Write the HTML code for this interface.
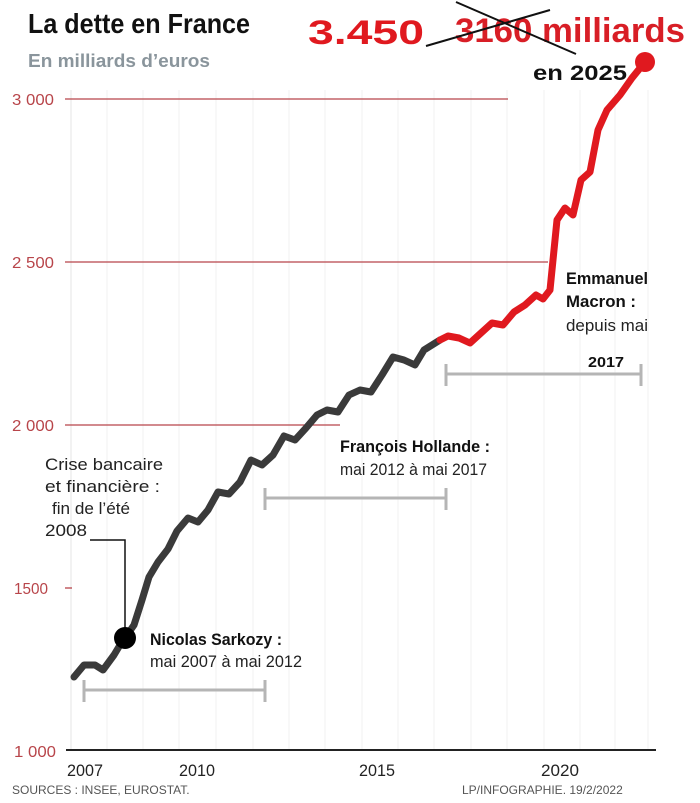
<!DOCTYPE html>
<html><head><meta charset="utf-8"><style>
html,body{margin:0;padding:0;background:#fff;}
svg{display:block;}
text{font-family:"Liberation Sans Narrow","Liberation Sans",sans-serif;}
</style></head><body>
<svg width="700" height="803" viewBox="0 0 700 803" xmlns="http://www.w3.org/2000/svg">
<g stroke="#f2f2f2" stroke-width="1">
<line x1="107" y1="90" x2="107" y2="750"/><line x1="143" y1="90" x2="143" y2="750"/><line x1="179" y1="90" x2="179" y2="750"/><line x1="216" y1="90" x2="216" y2="750"/><line x1="253" y1="90" x2="253" y2="750"/><line x1="289" y1="90" x2="289" y2="750"/><line x1="325" y1="90" x2="325" y2="750"/><line x1="362" y1="90" x2="362" y2="750"/><line x1="398" y1="90" x2="398" y2="750"/><line x1="434" y1="90" x2="434" y2="750"/><line x1="471" y1="90" x2="471" y2="750"/><line x1="507" y1="90" x2="507" y2="750"/><line x1="544" y1="90" x2="544" y2="750"/><line x1="580" y1="90" x2="580" y2="750"/><line x1="615" y1="90" x2="615" y2="750"/><line x1="648" y1="90" x2="648" y2="750"/>
</g>
<line x1="71" y1="90" x2="71" y2="750" stroke="#e4e4e4"/>
<g stroke="#b8454a" stroke-width="1.3">
<line x1="65" y1="99" x2="508" y2="99"/>
<line x1="65" y1="262" x2="548" y2="262"/>
<line x1="65" y1="425" x2="340" y2="425"/>
<line x1="65" y1="588" x2="72" y2="588"/>
</g>
<line x1="66" y1="750" x2="656" y2="750" stroke="#222" stroke-width="2"/>
<g font-size="16" fill="#b8454a">
<text x="12" y="105" textLength="42" lengthAdjust="spacingAndGlyphs">3 000</text><text x="12" y="268" textLength="42" lengthAdjust="spacingAndGlyphs">2 500</text><text x="12" y="431" textLength="42" lengthAdjust="spacingAndGlyphs">2 000</text><text x="14" y="594" textLength="34" lengthAdjust="spacingAndGlyphs">1500</text><text x="14" y="757" textLength="42" lengthAdjust="spacingAndGlyphs">1 000</text>
</g>
<g font-size="17" fill="#222" text-anchor="middle">
<text x="85" y="776" textLength="36" lengthAdjust="spacingAndGlyphs">2007</text><text x="197" y="776" textLength="36" lengthAdjust="spacingAndGlyphs">2010</text><text x="377" y="776" textLength="36" lengthAdjust="spacingAndGlyphs">2015</text><text x="560" y="776" textLength="38" lengthAdjust="spacingAndGlyphs">2020</text>
</g>
<text x="12" y="794" font-size="12" fill="#555">SOURCES : INSEE, EUROSTAT.</text>
<text x="462" y="794" font-size="12" fill="#555">LP/INFOGRAPHIE.  19/2/2022</text>
<text x="28" y="33" font-size="28" font-weight="bold" fill="#111" textLength="222" lengthAdjust="spacingAndGlyphs">La dette en France</text>
<text x="28" y="67" font-size="18" font-weight="bold" fill="#8a959c" textLength="182" lengthAdjust="spacingAndGlyphs">En milliards d’euros</text>
<g stroke="#b5b5b5" stroke-width="3" fill="none">
<path d="M84 690H265M84 680V702M265 680V702"/>
<path d="M265 498H446M265 488V510M446 488V510"/>
<path d="M446 374H641M446 364V386M641 364V386"/>
</g>
<polyline fill="none" stroke="#3a3a3a" stroke-width="7" stroke-linejoin="round" stroke-linecap="round" points="74,677 84,665 95,665 103,670 114,655 120,645 125,638 134,625 142,600 149,577 158,562 168,549 177,531 188,518 198,522 208,510 218,492 229,494 240,482 251,460 262,465 273,455 284,436 295,440 306,428 317,415 327,410 338,412 349,395 360,390 371,392 382,375 393,357 404,360 415,365 424,350 440,340"/>
<polyline fill="none" stroke="#e0191f" stroke-width="7" stroke-linejoin="round" stroke-linecap="round" points="440,340 448,336 459,338 470,343 481,333 492,323 503,325 514,312 525,305 536,295 543,299 550,290 557,220 565,208 573,215 581,180 590,172 598,130 607,110 620,95 632,78 645,62"/>
<circle cx="645" cy="62" r="10" fill="#e0191f"/>
<polyline points="90,540 125,540 125,630" fill="none" stroke="#111" stroke-width="1.5"/>
<circle cx="125" cy="638" r="11" fill="#000"/>
<g font-size="17" fill="#222">
<text x="45" y="470" textLength="118" lengthAdjust="spacingAndGlyphs">Crise bancaire</text>
<text x="45" y="492" textLength="115" lengthAdjust="spacingAndGlyphs">et financière :</text>
<text x="52" y="514" textLength="78" lengthAdjust="spacingAndGlyphs">fin de l’été</text>
<text x="45" y="536" textLength="42" lengthAdjust="spacingAndGlyphs">2008</text>
<text x="150" y="645" font-weight="bold" fill="#111" textLength="132" lengthAdjust="spacingAndGlyphs">Nicolas Sarkozy :</text>
<text x="150" y="667" textLength="152" lengthAdjust="spacingAndGlyphs">mai 2007 à mai 2012</text>
<text x="340" y="452" font-weight="bold" fill="#111" textLength="150" lengthAdjust="spacingAndGlyphs">François Hollande :</text>
<text x="340" y="475" textLength="147" lengthAdjust="spacingAndGlyphs">mai 2012 à mai 2017</text>
<text x="566" y="284" font-weight="bold" fill="#111" textLength="82" lengthAdjust="spacingAndGlyphs">Emmanuel</text>
<text x="566" y="307" font-weight="bold" fill="#111" textLength="70" lengthAdjust="spacingAndGlyphs">Macron :</text>
<text x="566" y="331" textLength="82" lengthAdjust="spacingAndGlyphs">depuis mai</text>
<text x="588" y="367" font-weight="bold" font-size="15" fill="#111" textLength="36" lengthAdjust="spacingAndGlyphs">2017</text>
</g>
<text x="308" y="44" font-size="34" font-weight="bold" fill="#e0191f" style="font-family:'Liberation Sans',sans-serif" textLength="116" lengthAdjust="spacingAndGlyphs">3.450</text>
<text x="455" y="42" font-size="34" font-weight="bold" fill="#d81e26" textLength="230" lengthAdjust="spacingAndGlyphs">3160 milliards</text>
<path d="M426 46 L550 10 M456 2 L576 54" stroke="#111" stroke-width="2" fill="none"/>
<text x="533" y="80" font-size="21" font-weight="bold" fill="#111" style="font-family:'Liberation Sans',sans-serif" textLength="94" lengthAdjust="spacingAndGlyphs">en 2025</text>
</svg>
</body></html>
